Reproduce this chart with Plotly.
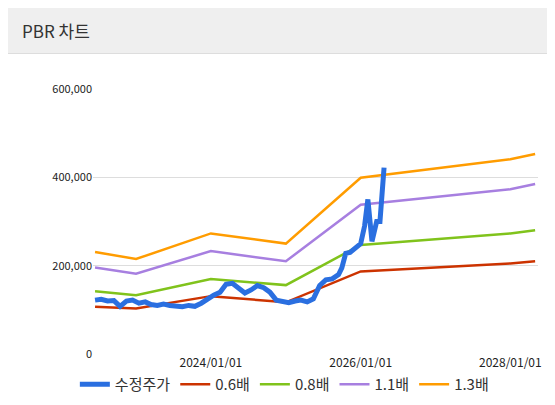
import plotly.graph_objects as go

price_dates = ["2022-06-15", "2022-07-15", "2022-08-15", "2022-09-15", "2022-10-15", "2022-11-15",
               "2022-12-15", "2023-01-15", "2023-02-15", "2023-03-15", "2023-04-15", "2023-05-15",
               "2023-06-15", "2023-07-15", "2023-08-15", "2023-09-15", "2023-10-15", "2023-11-15",
               "2023-12-15", "2024-01-15", "2024-02-15", "2024-03-15", "2024-04-15", "2024-05-15",
               "2024-06-15", "2024-07-15", "2024-08-15", "2024-09-15", "2024-10-15", "2024-11-15",
               "2024-12-15", "2025-01-15", "2025-02-15", "2025-03-15", "2025-04-15", "2025-05-15",
               "2025-06-15", "2025-07-15", "2025-08-15", "2025-09-15", "2025-10-01", "2025-10-20",
               "2025-11-10", "2025-12-05", "2026-01-01", "2026-01-20", "2026-02-05", "2026-02-25",
               "2026-03-20", "2026-04-05", "2026-04-25"]
price = [122000, 124000, 120000, 121000, 108000, 120000,
         122000, 115000, 118000, 112000, 110000, 113000,
         110000, 108000, 107000, 110000, 108000, 115000,
         125000, 133000, 140000, 158000, 160000, 150000,
         138000, 145000, 155000, 150000, 140000, 122000,
         118000, 116000, 120000, 122000, 118000, 125000,
         155000, 168000, 170000, 180000, 195000, 228000,
         230000, 240000, 250000, 290000, 350000, 255000,
         300000, 300000, 422000]

pbr_dates = ["2022-06-15", "2023-01-01", "2024-01-01", "2025-01-01", "2026-01-01", "2028-01-01", "2028-05-01"]
pbr_06 = [107000, 103000, 131000, 117000, 187000, 205000, 210000]
pbr_08 = [142000, 133000, 170000, 156000, 247000, 273000, 280000]
pbr_11 = [196000, 182000, 233000, 210000, 338000, 373000, 385000]
pbr_13 = [231000, 215000, 273000, 250000, 399000, 441000, 453000]

fig = go.Figure()
fig.add_trace(go.Scatter(x=price_dates, y=price, name="수정주가", mode="lines",
                         line=dict(color="#2a6fe0", width=5)))
for name, vals, col in [("0.6배", pbr_06, "#cc3300"), ("0.8배", pbr_08, "#80c31c"),
                        ("1.1배", pbr_11, "#a77fe0"), ("1.3배", pbr_13, "#ff9c00")]:
    fig.add_trace(go.Scatter(x=pbr_dates, y=vals, name=name, mode="lines",
                             line=dict(color=col, width=2.5)))
# price line drawn on top
fig.data = fig.data[1:] + (fig.data[0],)

fig.update_layout(
    width=555, height=405, plot_bgcolor="white", paper_bgcolor="white",
    margin=dict(l=85, r=25, t=81, b=55),
    font=dict(family="Noto Sans CJK KR", size=11, color="#222"),
    showlegend=True,
    legend=dict(orientation="h", x=0.43, xanchor="center", y=-0.115, yanchor="middle",
                traceorder="normal", font=dict(size=15, color="#333")),
    xaxis=dict(type="date", range=["2022-06-05", "2028-05-15"], tickformat="%Y/%m/%d",
               tick0="2024-01-01", dtick="M24", showgrid=False, ticks="", zeroline=False,
               tickfont=dict(size=12)),
    yaxis=dict(range=[0, 600000], dtick=200000, tickformat=",", gridcolor="#ddd",
               zeroline=False, showline=False),
    shapes=[dict(type="rect", xref="paper", yref="paper", x0=-0.2, x1=1.1, y0=1.134, y1=1.31,
                 fillcolor="#efefef", line=dict(width=0), layer="below"),
            dict(type="line", xref="paper", yref="paper", x0=-0.2, x1=1.1, y0=1.134, y1=1.134,
                 line=dict(color="#ddd", width=1))],
    annotations=[dict(text="PBR 차트", xref="paper", yref="paper", x=-0.165, y=1.219,
                      xanchor="left", yanchor="middle", showarrow=False,
                      font=dict(size=17, color="#333"))],
)
# legend lists the price first, though it is drawn last
fig.update_layout(legend_traceorder="reversed")
fig.data[0].legendrank = 2
for tr in fig.data:
    tr.legendrank = 1 if tr.name == "수정주가" else 2 + ["0.6배", "0.8배", "1.1배", "1.3배"].index(tr.name)
fig.update_layout(legend_traceorder="normal")
fig.write_html("out.html")
